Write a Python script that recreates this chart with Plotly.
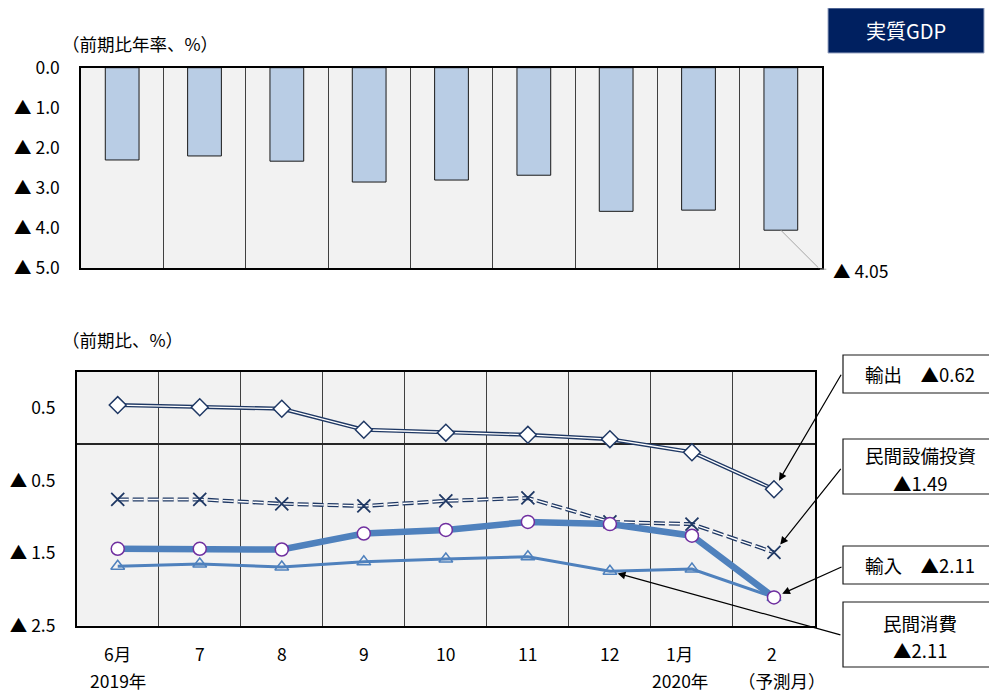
import plotly.graph_objects as go

# the page body adds an 8px margin; size the figure to fit the 997x693 window
OFF = 8
W, H = 997 - OFF, 693 - OFF

# ---------------- data ----------------
months = ["6月", "7", "8", "9", "10", "11", "12", "1月", "2"]
year_labels = ["2019年", "", "", "", "", "", "", "2020年", "（予測月）"]

gdp = [-2.30, -2.20, -2.33, -2.85, -2.80, -2.68, -3.58, -3.55, -4.05]

exports = [0.54, 0.51, 0.49, 0.20, 0.16, 0.13, 0.07, -0.11, -0.62]
capex = [-0.76, -0.76, -0.82, -0.85, -0.78, -0.74, -1.07, -1.10, -1.49]
imports = [-1.44, -1.44, -1.45, -1.23, -1.18, -1.07, -1.10, -1.26, -2.11]
consumption = [-1.68, -1.65, -1.69, -1.62, -1.58, -1.55, -1.75, -1.72, -2.11]

gdp_tickvals = [0, -1, -2, -3, -4, -5]
gdp_ticktext = ["0.0", "▲ 1.0", "▲ 2.0", "▲ 3.0", "▲ 4.0", "▲ 5.0"]
sub_tickvals = [0.5, -0.5, -1.5, -2.5]
sub_ticktext = ["0.5", "▲ 0.5", "▲ 1.5", "▲ 2.5"]

# ---------------- style ----------------
FONT = "Noto Sans CJK JP"
NAVY = "#1F3864"
BLUE = "#4F81BD"
PURPLE = "#7030A0"
BAR = "#B9CDE5"
TF = 17.5
# small horizontal nudges of the x labels (pixels), as in the reference layout
month_shift = [0, 0, 0, 0, 0, 0, 0, -12, -2]
year_shift = [0, 0, 0, 0, 0, 0, 0, -12, 8]


def px(x):
    return (x - OFF) / W


def py(y):
    return 1 - (y - OFF) / H


def tri(v):
    return f"▲{abs(v):.2f}" if v < 0 else f"{v:.2f}"


LAST = len(months) - 1
fig = go.Figure()

# top: real GDP bars
fig.add_trace(go.Bar(
    x=months, y=gdp, width=0.41,
    marker=dict(color=BAR, line=dict(color="#1A1A1A", width=1)),
    xaxis="x", yaxis="y", showlegend=False, hoverinfo="skip",
))

# bottom: components
fig.add_trace(go.Scatter(
    x=months, y=exports, mode="lines", line=dict(color=NAVY, width=4),
    xaxis="x2", yaxis="y2", showlegend=False))
fig.add_trace(go.Scatter(
    x=months, y=exports, mode="lines+markers", line=dict(color="white", width=1.3),
    marker=dict(symbol="diamond", size=13, color="white", line=dict(color=NAVY, width=1.5)),
    xaxis="x2", yaxis="y2", showlegend=False))

fig.add_trace(go.Scatter(
    x=months, y=capex, mode="lines", line=dict(color=NAVY, width=4, dash="11px,4px"),
    xaxis="x2", yaxis="y2", showlegend=False))
fig.add_trace(go.Scatter(
    x=months, y=capex, mode="lines+markers", line=dict(color="white", width=1.4, dash="11px,4px"),
    marker=dict(symbol="x-thin", size=13, color=NAVY, line=dict(color=NAVY, width=1.8)),
    xaxis="x2", yaxis="y2", showlegend=False))

fig.add_trace(go.Scatter(
    x=months, y=consumption, mode="lines+markers", line=dict(color=BLUE, width=3),
    marker=dict(symbol="triangle-up-open", size=12, color=BLUE, line=dict(color=BLUE, width=1.5)),
    xaxis="x2", yaxis="y2", showlegend=False))

fig.add_trace(go.Scatter(
    x=months, y=imports, mode="lines+markers", line=dict(color=BLUE, width=6.5),
    marker=dict(symbol="circle", size=13, color="white", line=dict(color=PURPLE, width=1.5)),
    xaxis="x2", yaxis="y2", showlegend=False))

axis_x_common = dict(
    type="category", categoryorder="array", categoryarray=months,
    range=[-0.5, LAST + 0.5], autorange=False,
    tickson="boundaries", showgrid=True, gridcolor="#404040", gridwidth=1,
    showline=True, mirror=True, linecolor="black", linewidth=1.5,
    ticks="", fixedrange=True, automargin=False, showticklabels=False,
)
axis_y_common = dict(
    showgrid=False, showline=True, mirror=True, linecolor="black", linewidth=1.5,
    ticks="", ticklabelstandoff=16, automargin=False, autorange=False,
    tickfont=dict(family=FONT, size=TF, color="black"),
)

fig.update_layout(
    width=W, height=H,
    margin=dict(l=0, r=0, t=0, b=0, pad=0, autoexpand=False),
    paper_bgcolor="white", plot_bgcolor="#F2F2F2",
    font=dict(family=FONT, size=TF, color="black"),
    xaxis=dict(axis_x_common, domain=[px(81), px(822)], anchor="y"),
    yaxis=dict(axis_y_common, domain=[py(268.3), py(67.7)], anchor="x",
               range=[-5, 0], tickvals=gdp_tickvals, ticktext=gdp_ticktext, zeroline=False),
    xaxis2=dict(axis_x_common, domain=[px(76.7), px(815)], anchor="y2"),
    yaxis2=dict(axis_y_common, domain=[py(625.7), py(371.7)], anchor="x2",
                range=[-2.5, 1.0], tickvals=sub_tickvals, ticktext=sub_ticktext,
                zeroline=True, zerolinecolor="#262626", zerolinewidth=1.5),
)

shapes = []
annotations = []

# titles
annotations.append(dict(text="（前期比年率、%）", x=px(60), y=py(44), xref="paper", yref="paper",
                        xanchor="left", yanchor="middle", showarrow=False, font=dict(size=TF)))
annotations.append(dict(text="（前期比、%）", x=px(60), y=py(340), xref="paper", yref="paper",
                        xanchor="left", yanchor="middle", showarrow=False, font=dict(size=TF)))

# GDP label box
shapes.append(dict(type="rect", xref="paper", yref="paper", x0=px(828), x1=px(984), y0=py(53), y1=py(8),
                   fillcolor="#002060", line=dict(color="#9AA6C4", width=1)))
annotations.append(dict(text="実質GDP", x=px(906), y=py(30), xref="paper", yref="paper",
                        xanchor="center", yanchor="middle",
                        showarrow=False, font=dict(size=20, color="white")))

# leader line for last GDP bar
annotations.append(dict(x=LAST, y=gdp[LAST], xref="x", yref="y", text="", showarrow=True,
                        arrowhead=0, arrowwidth=1, arrowcolor="#A6A6A6", ax=39, ay=39, standoff=0))
annotations.append(dict(x=LAST, y=gdp[LAST], xref="x", yref="y", text="", showarrow=True,
                        xshift=39, yshift=-39,
                        arrowhead=0, arrowwidth=1, arrowcolor="#A6A6A6", ax=8, ay=0, standoff=0))
annotations.append(dict(x=LAST, y=gdp[LAST], xref="x", yref="y", text="▲ " + f"{abs(gdp[LAST]):.2f}",
                        xanchor="center", yanchor="middle",
                        showarrow=False, xshift=80, yshift=-40, font=dict(size=TF)))

# month labels and year labels under bottom chart
for i, (m, yl) in enumerate(zip(months, year_labels)):
    annotations.append(dict(text=m, x=i, y=py(653), xref="x2", yref="paper",
                            xanchor="center", yanchor="middle", xshift=month_shift[i],
                            showarrow=False, font=dict(size=TF)))
    if yl:
        annotations.append(dict(text=yl, x=i, y=py(680), xref="x2", yref="paper",
                                xanchor="center", yanchor="middle", xshift=year_shift[i],
                                showarrow=False, font=dict(size=TF)))

# callout boxes
boxes = [
    (355, 393, [("輸出\u3000" + tri(exports[LAST]), 374)]),
    (439, 494, [("民間設備投資", 455), (tri(capex[LAST]), 483)]),
    (546, 584, [("輸入\u3000" + tri(imports[LAST]), 565)]),
    (602, 667, [("民間消費", 623), (tri(consumption[LAST]), 650)]),
]
for y0, y1, lines in boxes:
    shapes.append(dict(type="rect", xref="paper", yref="paper", x0=px(843), x1=px(996),
                       y0=py(y1), y1=py(y0), fillcolor="white", line=dict(color="#1A1A1A", width=1.2)))
    for t, yy in lines:
        annotations.append(dict(text=t, x=px(920), y=py(yy), xref="paper", yref="paper",
                                xanchor="center", yanchor="middle",
                                showarrow=False, font=dict(size=18.5)))

# arrows
arrow_common = dict(xref="x2", yref="y2", text="", showarrow=True, arrowhead=2,
                    arrowsize=1.3, arrowwidth=1.2, arrowcolor="black")
annotations.append(dict(arrow_common, x=LAST, y=exports[LAST], ax=68, ay=-116, standoff=10))
annotations.append(dict(arrow_common, x=LAST, y=capex[LAST], ax=68, ay=-85, standoff=10))
annotations.append(dict(arrow_common, x=LAST, y=imports[LAST], ax=69, ay=-31, standoff=9))
annotations.append(dict(arrow_common, x=6, y=consumption[6], ax=232, ay=64, standoff=8))

fig.update_layout(shapes=shapes, annotations=annotations)

fig.write_html("out.html")
